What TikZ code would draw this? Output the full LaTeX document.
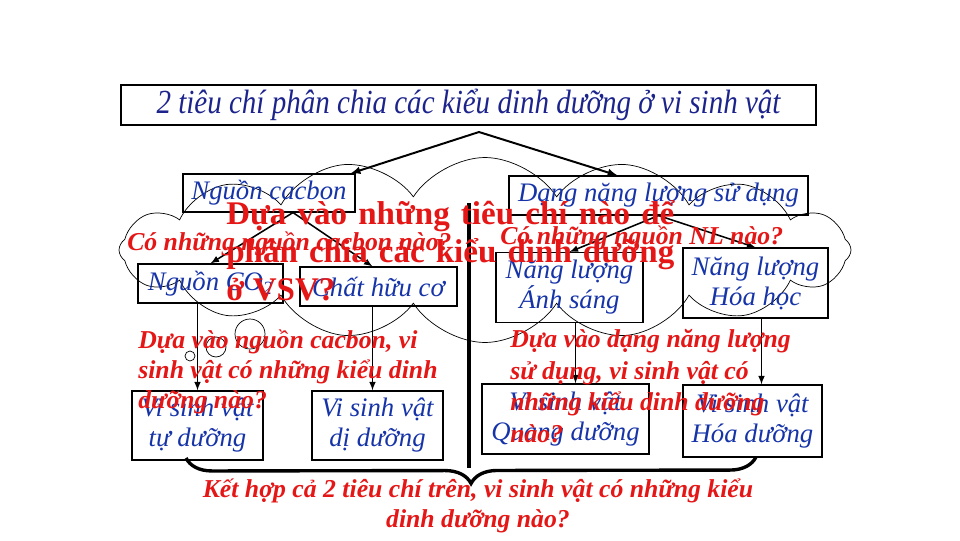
\documentclass[tikz,border=0pt]{standalone}
\usepackage{graphicx}
\usepackage{fontspec}
\setmainfont{Liberation Serif}
\usetikzlibrary{positioning}
\usetikzlibrary{arrows,calc,shapes.symbols,decorations.pathreplacing}
\definecolor{darkblue}{RGB}{28,36,140}
\definecolor{textblue}{RGB}{22,52,168}
\definecolor{askred}{RGB}{228,22,22}

\begin{document}
\begin{tikzpicture}[x=0.025cm,y=-0.025cm,
  box/.style 2 args={draw,line width=0.8pt,inner sep=0pt,align=center,text=textblue,
    font=\fontsize{19}{21.3}\selectfont\itshape,minimum width=#1*0.025cm,minimum height=#2*0.025cm},
  ask/.style={inner sep=0pt,align=left,text=askred,font=\fontsize{18.3}{21.3}\selectfont\bfseries\itshape},
  bigask/.style={inner sep=0pt,align=left,text=askred,font=\fontsize{23.5}{26.7}\selectfont\bfseries},
  link/.style={-latex,line width=1.1pt}]
\useasboundingbox (0,0) rectangle (960,540);

% thought cloud behind the tree
\node (cloud) [cloud,draw,line width=0.5pt,cloud puffs=16,cloud puff arc=115,cloud ignores aspect,
  minimum width=732*0.025cm,minimum height=185*0.025cm] at (485,250) {};
\draw[line width=0.5pt] (250,334) circle (15);
\draw[line width=0.5pt] (216,347) circle (10);
\draw[line width=0.5pt] (190,356) circle (5);

\node (title) [box={695}{40},text=darkblue,font=\fontsize{24}{26}\selectfont\itshape] at (468.5,105) {\scalebox{0.86}[1]{2 tiêu chí phân chia các kiểu dinh dưỡng ở vi sinh vật}};

\node (cacbon) [box={172}{38}] at (269,193) {Nguồn cacbon};
\node (nangluong) [box={299}{39}] at (658.5,195.5) {Dạng năng lượng sử dụng};
\node (co2) [box={145}{39}] at (210.5,283.5) {Nguồn CO\textsubscript{2}};
\node (huuco) [box={157}{39}] at (378.5,286.5) {Chất hữu cơ};
\node (anhsang) [box={147}{70}] at (569.5,287.5) {Năng lượng\\Ánh sáng};
\node (hoahoc) [box={145}{70}] at (755.5,283) {Năng lượng\\Hóa học};
\node (tuduong) [box={131}{69}] at (197.5,425.5) {Vi sinh vật\\tự dưỡng};
\node (diduong) [box={131}{69}] at (377.5,425.5) {Vi sinh vật\\dị dưỡng};
\node (quang) [box={167}{70}] at (565.5,419) {Vi sinh vật\\Quang dưỡng};
\node (hoaduong) [box={139}{72}] at (752.5,421) {Vi sinh vật\\Hóa dưỡng};

% arrows
\coordinate (split) at (479,132);
\draw[link,line width=1.4pt] (split) -- ($(cacbon.north east)+(-5,0)$);
\draw[link,line width=1.4pt] (split) -- ($(nangluong.north)+(-41,0)$);
\draw[link] ($(cacbon.south)+(24,0)$) -- (co2.north);
\draw[link] ($(cacbon.south)+(24,0)$) -- ($(huuco.north)+(-6,0)$);
\draw[link] (nangluong.south) -- (anhsang.north);
\draw[link] (nangluong.south) -- (hoahoc.north);
\draw[link] (co2.south -| tuduong.north) -- (tuduong.north);
\draw[link] ($(huuco.south)+(-6,0)$) -- ($(diduong.north)+(-5,0)$);
\draw[link] ($(anhsang.south)+(6,0)$) -- ($(quang.north)+(10,0)$);
\draw[link] ($(hoahoc.south)+(6,0)$) -- ($(hoaduong.north)+(9,0)$);

% divider and brace
\coordinate (divtop) at (469,203);
\coordinate (divbot) at (469,468);
\draw[line width=2.2pt] (divtop) -- (divbot);
\coordinate (bracel) at (186,458);
\coordinate (bracer) at (756,457);
\draw[line width=2.4pt,decorate,decoration={brace,mirror,amplitude=0.65cm}] (bracel) -- (bracer);

% questions
\node (askcacbon) [ask,anchor=base west] at (127,250) {Có những nguồn cacbon nào?};
\node (asknl) [ask,anchor=base west] at (500,244) {Có những nguồn NL nào?};
\node (askleft) [ask,anchor=base west] at (138,408) {Dựa vào nguồn cacbon, vi\\sinh vật có những kiểu dinh\\dưỡng nào?};
\node (askright) [ask,font=\fontsize{18.3}{22.4}\selectfont\bfseries\itshape,anchor=base west] at (510,442) {Dựa vào dạng năng lượng\\sử dụng, vi sinh vật có\\những kiểu dinh dưỡng\\nào?};
\node (askboth) [ask,align=center,anchor=base] at (478,527) {Kết hợp cả 2 tiêu chí trên, vi sinh vật có những kiểu\\dinh dưỡng nào?};
\node (bigq) [bigask,anchor=base west] at (226,300) {\makebox[11.2cm][s]{Dựa vào những tiêu chí nào để}\\\makebox[11.2cm][s]{phân chia các kiểu dinh dưỡng}\\ở VSV?};
\end{tikzpicture}
\end{document}
